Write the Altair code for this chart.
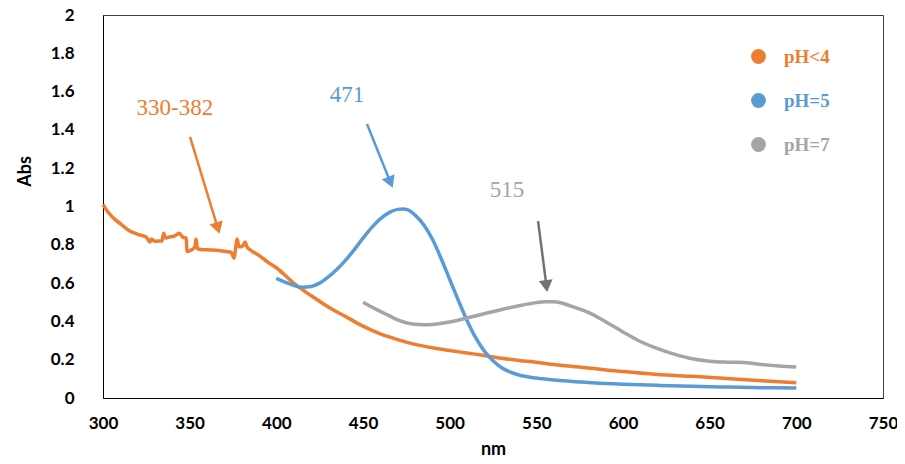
import altair as alt
import pandas as pd

# ---- data ----
orange_nm = [300, 303, 306, 310, 315, 320, 325, 327, 328, 330, 332, 334, 335, 336, 338, 341, 344, 346, 348,
             348.5, 351, 353, 353.7, 354.5, 357, 362, 367, 371, 374, 375.6, 376.5, 377.3, 378.5, 380, 381, 382,
             383, 385, 390, 395, 400, 410, 420, 430, 440, 450, 460, 470, 480, 490, 500, 510, 520, 530, 540,
             550, 560, 580, 600, 620, 640, 660, 680, 700]
orange_abs = [1.01, 0.97, 0.94, 0.91, 0.875, 0.855, 0.84, 0.815, 0.83, 0.818, 0.82, 0.82, 0.86, 0.835, 0.84,
              0.845, 0.86, 0.84, 0.835, 0.765, 0.773, 0.79, 0.83, 0.78, 0.775, 0.773, 0.77, 0.765, 0.76, 0.73,
              0.78, 0.83, 0.79, 0.79, 0.80, 0.815, 0.79, 0.773, 0.745, 0.71, 0.68, 0.60, 0.535, 0.475, 0.425,
              0.375, 0.335, 0.305, 0.28, 0.262, 0.248, 0.235, 0.222, 0.208, 0.196, 0.187, 0.175, 0.157, 0.138,
              0.123, 0.113, 0.102, 0.090, 0.080]

blue_nm = [400, 405, 410, 415, 420, 425, 430, 435, 440, 445, 450, 455, 460, 465, 470, 473, 476, 480, 485, 490,
           495, 500, 505, 510, 515, 520, 525, 530, 535, 540, 550, 560, 580, 600, 620, 640, 660, 680, 700]
blue_abs = [0.625, 0.605, 0.588, 0.578, 0.582, 0.60, 0.632, 0.672, 0.72, 0.775, 0.835, 0.89, 0.935, 0.968,
            0.985, 0.987, 0.982, 0.955, 0.905, 0.83, 0.73, 0.62, 0.51, 0.405, 0.315, 0.245, 0.195, 0.158,
            0.135, 0.12, 0.104, 0.094, 0.081, 0.072, 0.066, 0.061, 0.057, 0.054, 0.052]

gray_nm = [450, 455, 460, 465, 470, 475, 480, 485, 490, 495, 500, 510, 520, 530, 540, 550, 555, 560, 565, 570,
           580, 590, 600, 610, 620, 630, 640, 650, 660, 670, 680, 690, 700]
gray_abs = [0.50, 0.475, 0.452, 0.43, 0.408, 0.393, 0.385, 0.383, 0.384, 0.39, 0.397, 0.418, 0.44, 0.462,
            0.482, 0.498, 0.503, 0.503, 0.495, 0.48, 0.447, 0.398, 0.345, 0.295, 0.258, 0.228, 0.205, 0.192,
            0.187, 0.185, 0.175, 0.167, 0.162]

series_names = ["pH<4", "pH=5", "pH=7"]
series_colors = ["#ED7D31", "#5B9BD5", "#A5A5A5"]

# annotations
label_texts = ["330-382", "471", "515"]
label_nm = [341.5, 440.8, 533.1]
label_abs = [1.514, 1.582, 1.086]
label_colors = ["#ED7D31", "#5B9BD5", "#A5A5A5"]

arrow_ids = ["a1", "a2", "a3"]
arrow_start_nm = [350.2, 452.3, 551.0]
arrow_start_abs = [1.363, 1.431, 0.924]
arrow_head_nm = [365.9, 465.4, 555.7]
arrow_head_abs = [0.897, 1.136, 0.595]
arrow_angle = [163, 157.7, 173.4]
arrow_colors = ["#ED7D31", "#5B9BD5", "#767171"]

x_ticks = [300, 350, 400, 450, 500, 550, 600, 650, 700, 750]
y_ticks = [0, 0.2, 0.4, 0.6, 0.8, 1, 1.2, 1.4, 1.6, 1.8, 2]

# ---- tables ----
rows = []
for name, col, xs, ys in zip(series_names, series_colors, [orange_nm, blue_nm, gray_nm], [orange_abs, blue_abs, gray_abs]):
    for i, (a, b) in enumerate(zip(xs, ys)):
        rows.append({"series": name, "hex": col, "nm": a, "abs": b, "order": i})
df = pd.DataFrame(rows)
# one interior point per series, used only to carry the legend (hidden under the line)
legend_df = df[df["order"] == 20].reset_index(drop=True)

arrow_rows = []
for aid, sx, sy, hx, hy, c in zip(arrow_ids, arrow_start_nm, arrow_start_abs, arrow_head_nm, arrow_head_abs, arrow_colors):
    arrow_rows.append({"id": aid, "nm": sx, "abs": sy, "color": c, "order": 0})
    arrow_rows.append({"id": aid, "nm": hx, "abs": hy, "color": c, "order": 1})
arrows_df = pd.DataFrame(arrow_rows)
heads_df = pd.DataFrame({"nm": arrow_head_nm, "abs": arrow_head_abs, "angle": arrow_angle, "color": arrow_colors})
labels_df = pd.DataFrame({"text": label_texts, "nm": label_nm, "abs": label_abs, "color": label_colors})

color_expr = "datum.label == 'pH<4' ? '#ED7D31' : (datum.label == 'pH=5' ? '#5B9BD5' : '#A5A5A5')"

x_scale = alt.Scale(domain=[300, 750], nice=False, zero=False)
y_scale = alt.Scale(domain=[0, 2], nice=False)
color_scale = alt.Scale(domain=series_names, range=series_colors)

x_axis = alt.Axis(title="nm", values=x_ticks, grid=False, ticks=False, labelPadding=17,
                  labelFlush=False, labelOverlap=False,
                  labelFont="Lato", labelFontSize=17, labelFontWeight="bold", labelColor="#000",
                  titleFont="Lato", titleFontSize=18, titleFontWeight="bold", titleColor="#000",
                  titlePadding=9, domainColor="#000", domainWidth=1)
y_axis = alt.Axis(title="Abs", values=y_ticks, tickCount=11, format=".1~f", grid=False, ticks=False,
                  labelPadding=29, labelFlush=False, labelOverlap=False, labelBound=False,
                  labelFont="Lato", labelFontSize=17, labelFontWeight="bold", labelColor="#000",
                  titleFont="Lato", titleFontSize=18, titleFontWeight="bold", titleColor="#000",
                  titleX=-69, titleY=156, domainColor="#000", domainWidth=1)

X = alt.X("nm:Q", scale=x_scale, axis=x_axis)
Y = alt.Y("abs:Q", scale=y_scale, axis=y_axis)

legend_pts = alt.Chart(legend_df).mark_circle(size=8, opacity=1).encode(
    x=X, y=Y,
    color=alt.Color("series:N", scale=color_scale,
                    legend=alt.Legend(title=None, orient="none", legendX=646, legendY=32,
                                      symbolType="circle", symbolSize=220, symbolStrokeWidth=0,
                                      symbolOpacity=1, rowPadding=24, labelOffset=16,
                                      labelFont="Liberation Serif", labelFontSize=19, labelFontWeight="bold",
                                      labelColor={"expr": color_expr})),
)

lines = alt.Chart(df).mark_line(strokeWidth=3.5, interpolate="monotone").encode(
    x=X, y=Y,
    detail="series:N",
    color=alt.Color("hex:N", scale=None),
    order="order:Q",
)

arrow_lines = alt.Chart(arrows_df).mark_line(strokeWidth=2.5).encode(
    x=X, y=Y,
    detail="id:N",
    color=alt.Color("color:N", scale=None),
    order="order:Q",
)

arrow_heads = alt.Chart(heads_df).mark_point(shape="triangle", filled=True, size=190, opacity=1).encode(
    x=X, y=Y,
    angle=alt.Angle("angle:Q", scale=None),
    color=alt.Color("color:N", scale=None),
)

labels = alt.Chart(labels_df).mark_text(font="Liberation Serif", fontSize=23, baseline="middle", align="center").encode(
    x=X, y=Y,
    text="text:N",
    color=alt.Color("color:N", scale=None),
)

chart = alt.layer(legend_pts, lines, arrow_lines, arrow_heads, labels).properties(
    width=780, height=383,
    autosize=alt.AutoSizeParams(type="none"),
    padding={"left": 95, "top": 7, "right": 14, "bottom": 60},
    background="white",
).configure_view(stroke="#404040", strokeWidth=1).configure_axis(labelOverlap=False)

chart.save("out.html", embed_options={"renderer": "svg", "actions": False})
